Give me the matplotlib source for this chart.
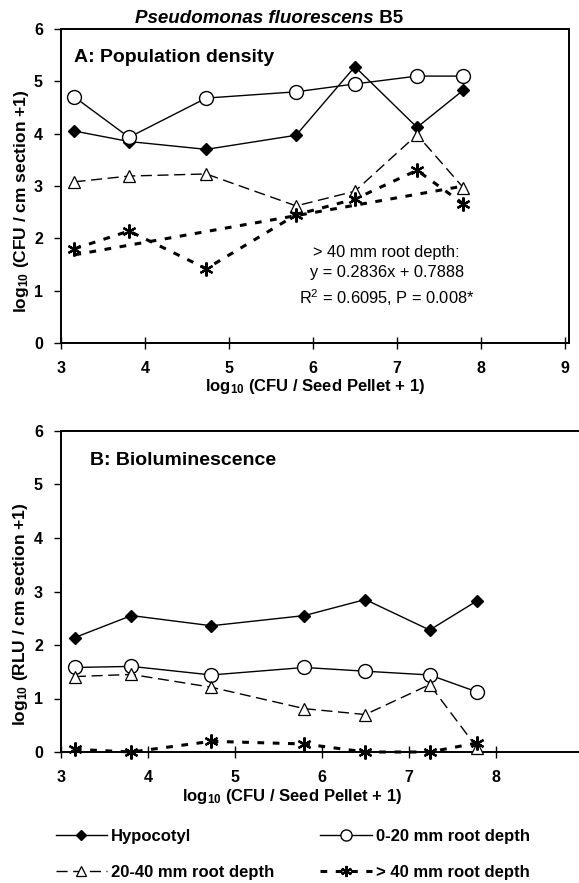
import matplotlib
matplotlib.use("Agg")
import matplotlib.pyplot as plt
from matplotlib.lines import Line2D

plt.rcParams['font.family'] = ['Liberation Sans', 'DejaVu Sans']
plt.rcParams['mathtext.fontset'] = 'custom'
plt.rcParams['mathtext.rm'] = 'Liberation Sans:bold'
plt.rcParams['mathtext.bf'] = 'Liberation Sans:bold'
plt.rcParams['mathtext.it'] = 'Liberation Sans:italic'

# Datos
x_seed = [3.16, 3.81, 4.73, 5.80, 6.50, 7.24, 7.79]

# A: densidad de poblacion
hipocotilo_a = [4.05, 3.85, 3.70, 3.97, 5.28, 4.12, 4.83]
raiz_0_20_a = [4.70, 3.93, 4.68, 4.80, 4.95, 5.10, 5.10]
raiz_20_40_a = [3.08, 3.19, 3.23, 2.62, 2.90, 3.98, 2.97]
raiz_40_a = [1.80, 2.14, 1.42, 2.45, 2.75, 3.30, 2.66]
pendiente, intercepto = 0.2836, 0.7888

# B: bioluminiscencia
hipocotilo_b = [2.14, 2.55, 2.36, 2.55, 2.85, 2.28, 2.83]
raiz_0_20_b = [1.58, 1.60, 1.44, 1.58, 1.51, 1.44, 1.12]
raiz_20_40_b = [1.41, 1.45, 1.21, 0.81, 0.70, 1.26, 0.07]
raiz_40_b = [0.05, 0.00, 0.20, 0.15, 0.00, 0.00, 0.17]

etiquetas = ['Hypocotyl', '0-20 mm root depth', '20-40 mm root depth', '> 40 mm root depth']

estilos = [
    dict(color='black', lw=1.0, ls='-', marker='D', ms=6, mfc='black', mec='black'),
    dict(color='black', lw=1.0, ls='-', marker='o', ms=10, mfc='white', mec='black', mew=1.0),
    dict(color='black', lw=1.0, ls=(0, (8, 4)), marker='^', ms=9, mfc='white', mec='black', mew=0.9),
    dict(color='black', lw=2.2, ls=(0, (2.2, 2.8)), marker=(6, 2, 0), ms=10, mec='black', mew=1.6),
]

W, H = 579, 883
fig = plt.figure(figsize=(W / 100, H / 100), dpi=100)
ax_a = fig.add_axes([61 / W, 1 - 343 / H, 508 / W, 314 / H])
ax_b = fig.add_axes([61 / W, 1 - 752 / H, 526 / W, 321 / H])


def formato(ax, ylabel, xlab_x, ylab_y):
    ax.set_xlim(3, 9.05)
    ax.set_ylim(0, 6)
    ax.set_xticks(range(3, 10))
    ax.set_yticks(range(0, 7))
    for s in ax.spines.values():
        s.set_linewidth(1.4)
    ax.tick_params(axis='x', direction='inout', length=8, width=1.0, labelsize=11.5, pad=9)
    ax.tick_params(axis='y', direction='out', length=5, width=1.0, labelsize=11.5, pad=8)
    for lab in ax.get_xticklabels() + ax.get_yticklabels():
        lab.set_fontweight('bold')
    ax.set_xlabel(r'log$_{10}$ (CFU / Seed Pellet + 1)', fontsize=12, fontweight='bold')
    ax.xaxis.set_label_coords(xlab_x, -34 / 316)
    ax.set_ylabel(ylabel, fontsize=12.5, fontweight='bold')
    ax.yaxis.set_label_coords(-30 / 508, ylab_y)


series_a = [hipocotilo_a, raiz_0_20_a, raiz_20_40_a, raiz_40_a]
for y, st in zip(series_a, estilos):
    ax_a.plot(x_seed, y, clip_on=False, **st)
# linea de tendencia > 40 mm
x_t = [min(x_seed), max(x_seed)]
y_t = [pendiente * v + intercepto for v in x_t]
ax_a.plot(x_t, y_t, color='black', lw=2.2, ls=(0, (2.2, 2.8)))
formato(ax_a, r'log$_{10}$ (CFU / cm section +1)', 0.5, 0.45)
ax_a.text(0.026, 0.935, 'A: Population density', transform=ax_a.transAxes,
          fontsize=14, fontweight='bold', va='top')
ax_a.text(6.88, 1.27, '> 40 mm root depth:\ny = 0.2836x + 0.7888\n'
          r'R$^{\mathregular{2}}$ = 0.6095, P = 0.008*',
          fontsize=11.8, ha='center', va='center', linespacing=1.45)

series_b = [hipocotilo_b, raiz_0_20_b, raiz_20_40_b, raiz_40_b]
for y, st in zip(series_b, estilos):
    ax_b.plot(x_seed, y, clip_on=False, zorder=3, **st)
formato(ax_b, r'log$_{10}$ (RLU / cm section +1)', 0.44, 0.43)
ax_b.text(0.055, 0.935, 'B: Bioluminescence', transform=ax_b.transAxes,
          fontsize=14, fontweight='bold', va='top')

# titulo
t = fig.text(135 / W, 0.974, 'Pseudomonas fluorescens', fontsize=13.5, fontweight='bold',
             fontstyle='italic', ha='left', va='baseline')
fig.canvas.draw()
ax_a.annotate(' B5', xy=(1, 0), xycoords=t, fontsize=13.5, fontweight='bold', va='bottom')

# leyenda
handles = [Line2D([], [], **st) for st in estilos]
for h in handles:
    h.set_markersize(h.get_markersize() * 0.8)
orden = [0, 2, 1, 3]
fig.legend([handles[i] for i in orden], [etiquetas[i] for i in orden], ncol=2,
           loc='upper left', bbox_to_anchor=(0.07, 0.078), frameon=False,
           prop={'weight': 'bold', 'size': 12}, handlelength=3.1, columnspacing=2.75,
           labelspacing=1.25, handletextpad=0.25)

fig.savefig('out.png', dpi=100)
